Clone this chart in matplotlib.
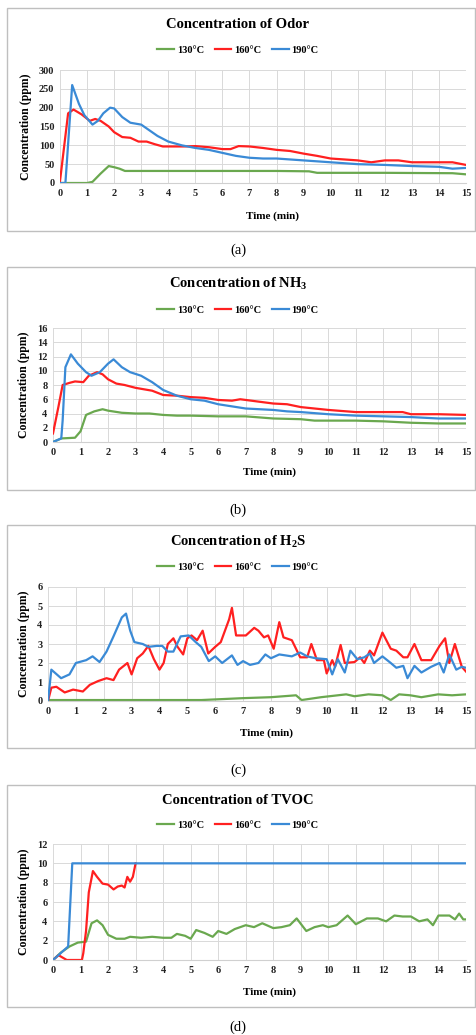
import matplotlib
matplotlib.use("Agg")
import matplotlib.pyplot as plt
from matplotlib.patches import Rectangle

plt.rcParams["font.family"] = ["Liberation Serif", "DejaVu Serif"]

W, H = 476, 1035

labels = ["130°C", "160°C", "190°C"]
colors = ["#6aa84f", "#ff2020", "#3a8ad6"]

# ---------------------------
# (a) Odor
# ---------------------------
odor_t130 = [0, 1.0, 1.2, 1.5, 1.8, 2.0, 2.2, 2.4, 4, 6, 8, 9.2, 9.5, 12, 14.5, 15]
odor_v130 = [0, 0, 3, 25, 45, 42, 38, 32, 32, 32, 32, 31, 27, 27, 26, 23]
odor_t160 = [0, 0.3, 0.5, 0.8, 1.1, 1.3, 1.5, 1.8, 2.0, 2.3, 2.6, 2.9, 3.2, 3.5, 3.8, 4.2,
             4.6, 5.0, 5.5, 6.0, 6.3, 6.6, 7.0, 7.5, 8.0, 8.5, 9.0, 9.5, 10, 11, 11.5, 12,
             12.5, 13, 14, 14.5, 15]
odor_v160 = [5, 185, 195, 182, 165, 170, 165, 150, 135, 122, 120, 110, 110, 103, 97, 97,
             97, 98, 95, 90, 90, 98, 97, 93, 88, 85, 78, 72, 65, 60, 55, 60,
             60, 55, 55, 55, 48]
odor_t190 = [0, 0.2, 0.45, 0.7, 0.9, 1.2, 1.4, 1.6, 1.85, 2.0, 2.3, 2.6, 3.0, 3.3, 3.6, 4.0,
             4.5, 5, 5.5, 6, 6.5, 7, 7.5, 8, 9, 10, 11, 12, 13, 14, 14.5, 15]
odor_v190 = [0, 0, 260, 210, 180, 155, 165, 185, 200, 198, 175, 160, 155, 140, 125, 110,
             100, 93, 88, 80, 72, 67, 65, 65, 60, 55, 50, 48, 45, 43, 38, 40]

# ---------------------------
# (b) NH3
# ---------------------------
nh3_t130 = [0, 0.3, 0.8, 1.0, 1.2, 1.5, 1.8, 2.0, 2.5, 3, 3.5, 4, 4.5, 5, 6, 7, 8, 9,
            9.5, 10, 11, 12, 13, 14, 15]
nh3_v130 = [0, 0.5, 0.6, 1.5, 3.8, 4.3, 4.6, 4.4, 4.1, 4.0, 4.0, 3.8, 3.7, 3.7, 3.6, 3.6,
            3.3, 3.2, 3.0, 3.0, 3.0, 2.9, 2.7, 2.6, 2.6]
nh3_t160 = [0, 0.2, 0.35, 0.6, 0.8, 1.1, 1.3, 1.6, 1.8, 2.0, 2.3, 2.6, 3.0, 3.3, 3.6, 4.0,
            4.5, 5, 5.5, 6, 6.5, 6.8, 7.2, 8, 8.5, 9, 9.5, 10, 11, 12, 12.7, 13, 14, 15]
nh3_v160 = [1.2, 5, 8.0, 8.3, 8.5, 8.4, 9.3, 9.8, 9.5, 8.8, 8.2, 8.0, 7.6, 7.4, 7.2, 6.6,
            6.5, 6.3, 6.2, 5.9, 5.8, 6.0, 5.8, 5.4, 5.3, 4.9, 4.7, 4.5, 4.2, 4.2, 4.2, 3.9,
            3.9, 3.8]
nh3_t190 = [0, 0.3, 0.35, 0.45, 0.65, 0.9, 1.2, 1.4, 1.7, 2.0, 2.2, 2.5, 2.8, 3.2, 3.6, 4.0,
            4.5, 5, 5.5, 6, 6.5, 7, 8, 8.5, 9, 10, 11, 12, 13, 14, 15]
nh3_v190 = [0, 0.5, 3, 10.5, 12.3, 11, 9.8, 9.3, 9.8, 11, 11.6, 10.5, 9.8, 9.3, 8.4, 7.3,
            6.5, 6.0, 5.8, 5.3, 5.0, 4.7, 4.5, 4.3, 4.2, 3.9, 3.7, 3.6, 3.5, 3.3, 3.3]

# ---------------------------
# (c) H2S
# ---------------------------
h2s_t130 = [0, 5.5, 7, 8, 8.9, 9.1, 9.8, 10.7, 11, 11.5, 12, 12.3, 12.6, 13, 13.4, 14, 14.5, 15]
h2s_v130 = [0.05, 0.05, 0.15, 0.2, 0.3, 0.05, 0.2, 0.35, 0.25, 0.35, 0.3, 0.05, 0.35, 0.3,
            0.2, 0.35, 0.3, 0.35]
h2s_t160 = [0, 0.12, 0.3, 0.6, 0.9, 1.25, 1.5, 1.8, 2.1, 2.35, 2.55, 2.85, 3.0, 3.2, 3.4,
            3.6, 3.8, 4.0, 4.15, 4.3, 4.5, 4.65, 4.85, 5.0, 5.15, 5.35, 5.55, 5.75, 6.0,
            6.2, 6.5, 6.6, 6.75, 7.1, 7.4, 7.55, 7.75, 7.9, 8.1, 8.3, 8.45, 8.75, 9.05,
            9.3, 9.45, 9.65, 9.9, 10.0, 10.2, 10.3, 10.5, 10.65, 11.0, 11.2, 11.35, 11.55,
            11.7, 12.0, 12.3, 12.5, 12.75, 12.9, 13.15, 13.4, 13.75, 14.05, 14.25, 14.4,
            14.6, 14.85, 15]
h2s_v160 = [0, 0.7, 0.75, 0.45, 0.6, 0.5, 0.85, 1.05, 1.2, 1.1, 1.65, 2.0, 1.4, 2.25, 2.5,
            2.9, 2.2, 1.65, 2.0, 3.0, 3.3, 2.85, 2.45, 3.3, 3.45, 3.2, 3.7, 2.5, 2.85,
            3.1, 4.3, 4.9, 3.45, 3.45, 3.85, 3.7, 3.35, 3.45, 2.75, 4.15, 3.35, 3.2, 2.3,
            2.3, 3.0, 2.15, 2.15, 1.45, 2.15, 1.8, 2.95, 2.0, 2.05, 2.3, 2.0, 2.65,
            2.4, 3.6, 2.75, 2.65, 2.3, 2.3, 3.0, 2.15, 2.15, 2.9, 3.3, 2.0,
            3.0, 1.8, 1.55]
h2s_t190 = [0, 0.12, 0.47, 0.77, 1.0, 1.37, 1.6, 1.85, 2.1, 2.35, 2.65, 2.8, 2.95, 3.1, 3.4,
            3.6, 3.9, 4.1, 4.3, 4.5, 4.76, 5.05, 5.3, 5.5, 5.77, 6.0, 6.25, 6.6, 6.8, 7.0,
            7.25, 7.55, 7.8, 8.0, 8.3, 8.75, 9.05, 9.3, 9.6, 10.0, 10.2, 10.4, 10.65, 10.85,
            11.1, 11.35, 11.55, 11.7, 12.0, 12.3, 12.5, 12.75, 12.9, 13.15, 13.4, 13.75,
            14.05, 14.2, 14.4, 14.65, 14.85, 15]
h2s_v190 = [0, 1.65, 1.2, 1.4, 2.0, 2.15, 2.35, 2.05, 2.6, 3.4, 4.4, 4.6, 3.7, 3.1, 3.0,
            2.85, 2.9, 2.9, 2.6, 2.6, 3.4, 3.45, 3.1, 2.85, 2.1, 2.35, 2.0, 2.4, 1.9, 2.1,
            1.9, 2.0, 2.45, 2.25, 2.45, 2.35, 2.55, 2.35, 2.25, 2.2, 1.4, 2.2, 1.5, 2.65,
            2.2, 2.3, 2.5, 2.0, 2.35, 2.0, 1.75, 1.85, 1.2, 1.85, 1.5, 1.8,
            2.0, 1.5, 2.45, 1.65, 1.8, 1.75]

# ---------------------------
# (d) TVOC
# ---------------------------
tvoc_t130 = [0, 0.3, 0.6, 0.9, 1.2, 1.4, 1.6, 1.8, 2.0, 2.3, 2.6, 2.8, 3.2, 3.6, 4.0, 4.3,
             4.5, 4.8, 5.0, 5.2, 5.5, 5.8, 6.0, 6.3, 6.6, 7.0, 7.3, 7.6, 8.0, 8.3, 8.6,
             8.85, 9.2, 9.5, 9.8, 10.0, 10.3, 10.7, 11.0, 11.4, 11.8, 12.1, 12.4, 12.7,
             13.0, 13.3, 13.6, 13.8, 14.0, 14.4, 14.6, 14.75, 14.9, 15.0]
tvoc_v130 = [0, 0.8, 1.4, 1.8, 1.9, 3.8, 4.1, 3.6, 2.6, 2.2, 2.2, 2.4, 2.3, 2.4, 2.3, 2.3,
             2.7, 2.5, 2.2, 3.1, 2.8, 2.4, 3.0, 2.7, 3.2, 3.6, 3.4, 3.8, 3.3, 3.4, 3.6,
             4.3, 3.0, 3.4, 3.6, 3.4, 3.6, 4.6, 3.7, 4.3, 4.3, 4.0, 4.6, 4.5,
             4.5, 4.0, 4.2, 3.6, 4.6, 4.6, 4.2, 4.8, 4.2, 4.2]
tvoc_t160 = [0, 0.2, 0.5, 1.05, 1.1, 1.2, 1.3, 1.45, 1.6, 1.8, 2.0, 2.2, 2.35, 2.5, 2.6,
             2.7, 2.8, 2.9, 3.0]
tvoc_v160 = [0, 0.5, 0, 0, 0.7, 3, 7, 9.2, 8.6, 7.9, 7.8, 7.3, 7.6, 7.7, 7.5, 8.6, 8.1,
             8.6, 10]
tvoc_t190 = [0, 0.55, 0.7, 15]
tvoc_v190 = [0, 1.4, 10, 10]

panels = [
    dict(title="Concentration of Odor", cap="(a)",
         series=[(odor_t130, odor_v130), (odor_t160, odor_v160), (odor_t190, odor_v190)],
         ymax=300, ystep=50, box=(7, 8, 475, 231), ax=(60, 70, 466, 183),
         ty=24, ly=50, xl=216, cy=250),
    dict(title="Concentration of NH$_\\mathregular{3}$", cap="(b)",
         series=[(nh3_t130, nh3_v130), (nh3_t160, nh3_v160), (nh3_t190, nh3_v190)],
         ymax=16, ystep=2, box=(7, 267, 475, 490), ax=(53, 328, 466, 442),
         ty=284, ly=310, xl=472, cy=510),
    dict(title="Concentration of H$_\\mathregular{2}$S", cap="(c)",
         series=[(h2s_t130, h2s_v130), (h2s_t160, h2s_v160), (h2s_t190, h2s_v190)],
         ymax=6, ystep=1, box=(7, 525, 475, 748), ax=(48, 587, 466, 701),
         ty=542, ly=567, xl=733, cy=770),
    dict(title="Concentration of TVOC", cap="(d)",
         series=[(tvoc_t130, tvoc_v130), (tvoc_t160, tvoc_v160), (tvoc_t190, tvoc_v190)],
         ymax=12, ystep=2, box=(7, 785, 475, 1007), ax=(53, 844, 466, 960),
         ty=800, ly=825, xl=992, cy=1027),
]

fig = plt.figure(figsize=(W / 100, H / 100), dpi=100)


def fx(px):
    return px / W


def fy(py):
    return 1 - py / H


for p in panels:
    x0, y0, x1, y1 = p["box"]
    fig.patches.append(Rectangle((fx(x0), fy(y1)), fx(x1 - x0), (y1 - y0) / H,
                                 transform=fig.transFigure, fill=False,
                                 edgecolor="#bfbfbf", linewidth=1.0))
    a0, b0, a1, b1 = p["ax"]
    ax = fig.add_axes([fx(a0), fy(b1), fx(a1 - a0), (b1 - b0) / H])
    lines = []
    for (t, v), lab, c in zip(p["series"], labels, colors):
        ln, = ax.plot(t, v, color=c, linewidth=1.6, label=lab)
        lines.append(ln)
    ax.set_xlim(0, 15)
    ax.set_ylim(0, p["ymax"])
    ax.set_xticks(range(0, 16))
    ax.set_yticks(range(0, p["ymax"] + 1, p["ystep"]))
    ax.grid(True, color="#d9d9d9", linewidth=0.7)
    ax.set_axisbelow(True)
    for s in ax.spines.values():
        s.set_visible(False)
    ax.spines["bottom"].set_visible(True)
    ax.spines["bottom"].set_color("#d0d0d0")
    ax.tick_params(length=0, labelsize=7.5, colors="#222222", pad=4)
    for lab in ax.get_xticklabels() + ax.get_yticklabels():
        lab.set_fontweight("bold")
    ax.set_ylabel("Concentration (ppm)", fontsize=8.5, fontweight="bold", labelpad=5)
    fig.text(fx((a0 + a1) / 2 + 10), fy(p["xl"]), "Time (min)", ha="center", va="center",
             fontsize=8, fontweight="bold")
    fig.text(0.5, fy(p["ty"]), p["title"], ha="center", va="center",
             fontsize=10.5, fontweight="bold")
    fig.legend(handles=lines, loc="center", bbox_to_anchor=(0.5, fy(p["ly"])), ncol=3,
               frameon=False, handlelength=1.6, columnspacing=1.0,
               handletextpad=0.3, prop=dict(weight="bold", size=7.5))
    fig.text(0.5, fy(p["cy"]), p["cap"], ha="center", va="center", fontsize=10.5)

fig.savefig("out.png", dpi=100)
